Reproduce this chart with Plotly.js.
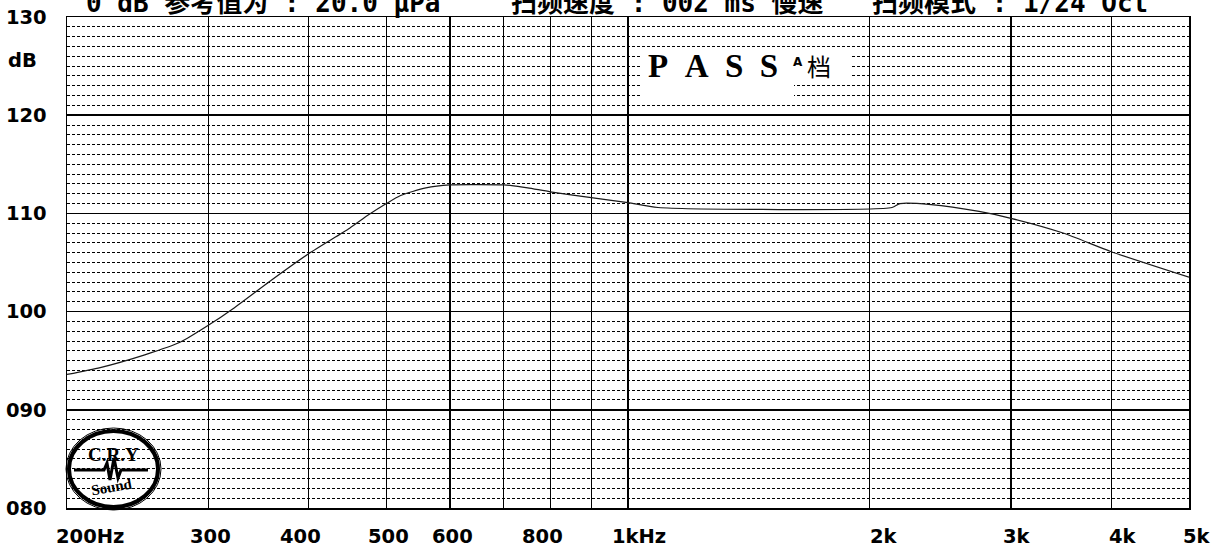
<!DOCTYPE html>
<html>
<head>
<meta charset="utf-8">
<script src="https://cdn.plot.ly/plotly-3.0.1.min.js"></script>
<style>html,body{margin:0;padding:0;background:#fff}#chart{width:1223px;height:551px}</style>
</head>
<body>
<div id="chart"></div>
<script>
// ---- data ----
const freqHz = [200, 220, 250, 277, 300, 322, 358, 400, 450, 474, 500, 520, 560, 600, 700, 713, 750, 800, 900, 1000, 1090, 2133, 2182, 2386, 2738, 3000, 3484, 4000, 5000];
const levelDb = [93.6, 94.3, 95.6, 96.9, 98.6, 100.3, 103.1, 105.9, 108.5, 109.8, 111.0, 111.8, 112.6, 112.9, 112.9, 112.85, 112.6, 112.2, 111.6, 111.1, 110.6, 110.6, 111.0, 110.9, 110.2, 109.5, 108.0, 106.1, 103.5];
const gridFreqs = [300, 400, 500, 600, 700, 800, 900, 1000, 2000, 3000, 4000];
const xTickVals = [200, 300, 400, 500, 600, 800, 1000, 2000, 3000, 4000, 5000];
const xTickText = ['200Hz', '300', '400', '500', '600', '800', '1kHz', '2k', '3k', '4k', '5k'];
const yTickVals = [80, 90, 100, 110, 120, 130];
const yTickText = ['080', '090', '100', '110', '120', '130'];
const headerTexts = ['0 dB 参考值为 : 20.0 μPa', '扫频速度 : 002 ms 慢速', '扫频模式 : 1/24 Oct'];
const passText = 'PASS';
const gradeText = ['A', '档'];
const logoTexts = ['C.R.Y', 'Sound'];

// ---- layout helpers ----
const L = 67, T = 17, W = 1122, H = 491;
const px = x => (x - L) / W;
const py = y => (T + H - y) / H;
const monoB = {family: 'DejaVu Sans, sans-serif', size: 19.5, color: '#000', weight: 'bold'};
const labelShift = [23, 2, -8, 2, 3, -8, 11, 14, 6, 12, 8];
const headerX = [84, 509, 870];

const annotations = [];
xTickVals.forEach((v, i) => annotations.push({
  xref: 'x', yref: 'paper', x: Math.log10(v), y: py(536.5), xanchor: 'center', yanchor: 'middle',
  xshift: labelShift[i], text: xTickText[i], showarrow: false, font: monoB
}));
annotations.push({xref: 'paper', yref: 'paper', x: px(6), y: py(61), xanchor: 'left', yanchor: 'middle',
  text: 'dB', showarrow: false, font: monoB});
headerTexts.forEach((t, i) => annotations.push({
  xref: 'paper', yref: 'paper', x: px(headerX[i]), y: py(3), xanchor: 'left', yanchor: 'middle',
  text: t, showarrow: false, font: {family: 'DejaVu Sans Mono, Noto Sans CJK SC, monospace', size: 26, color: '#000', weight: 'bold'}
}));
annotations.push({xref: 'paper', yref: 'paper', x: px(646), y: py(66), xanchor: 'left', yanchor: 'middle',
  text: passText.split('').join('\u2002'), showarrow: false,
  font: {family: 'Liberation Serif, serif', size: 33, color: '#000', weight: 'bold'}});
annotations.push({xref: 'paper', yref: 'paper', x: px(791), y: py(62), xanchor: 'left', yanchor: 'middle',
  text: gradeText[0], showarrow: false, font: {family: 'DejaVu Sans, sans-serif', size: 12, color: '#000', weight: 'bold'}});
annotations.push({xref: 'paper', yref: 'paper', x: px(805), y: py(65), xanchor: 'left', yanchor: 'middle',
  text: gradeText[1], showarrow: false, font: {family: 'Noto Sans CJK SC, sans-serif', size: 24, color: '#000'}});
annotations.push({xref: 'paper', yref: 'paper', x: px(113), y: py(454), xanchor: 'center', yanchor: 'middle',
  text: logoTexts[0], showarrow: false, font: {family: 'Liberation Serif, serif', size: 19, color: '#000', weight: 'bold'}});
annotations.push({xref: 'paper', yref: 'paper', x: px(112), y: py(487), xanchor: 'center', yanchor: 'middle',
  text: logoTexts[1], showarrow: false, textangle: -10, font: {family: 'Liberation Serif, serif', size: 15, color: '#000', weight: 'bold'}});

const wave = [[74,470],[104,470],[107,463],[110,480],[114,458],[118,478],[121,470],[148,470]];
const shapes = [
  {type: 'rect', xref: 'paper', yref: 'paper', x0: px(640), x1: px(850), y0: py(80), y1: py(51), fillcolor: '#fff', line: {width: 0}, layer: 'above'},
  {type: 'rect', xref: 'paper', yref: 'paper', x0: px(640), x1: px(794), y0: py(99), y1: py(80), fillcolor: '#fff', line: {width: 0}, layer: 'above'},
  {type: 'circle', xref: 'paper', yref: 'paper', x0: px(69), x1: px(158), y0: py(507), y1: py(431), line: {color: '#000', width: 4}, layer: 'above'},
  {type: 'circle', xref: 'paper', yref: 'paper', x0: px(66), x1: px(161), y0: py(510), y1: py(428), line: {color: '#000', width: 1}, layer: 'above'},
  {type: 'path', xref: 'paper', yref: 'paper', path: 'M ' + wave.map(p => px(p[0]) + ',' + py(p[1])).join(' L '), line: {color: '#000', width: 3}, layer: 'above'}
];

const trace = {x: freqHz, y: levelDb, type: 'scatter', mode: 'lines', line: {color: '#1a1a1a', width: 1.2, shape: 'spline', smoothing: 0.6}, hoverinfo: 'skip'};

const layout = {
  width: 1223, height: 551,
  margin: {l: L, r: 1223 - L - W, t: T, b: 551 - T - H, pad: 0},
  paper_bgcolor: '#fff', plot_bgcolor: '#fff',
  showlegend: false,
  xaxis: {type: 'log', range: [Math.log10(200), Math.log10(5000)], tickvals: gridFreqs, showticklabels: false,
    showgrid: true, gridcolor: '#000', gridwidth: 1.3, ticks: '', zeroline: false,
    showline: true, linecolor: '#000', linewidth: 1.5, mirror: true, fixedrange: true},
  yaxis: {range: [80, 130], tickvals: yTickVals, ticktext: yTickText, tickfont: monoB, ticks: '',
    ticklabelstandoff: 15, showgrid: true, gridcolor: '#000', gridwidth: 1.5, zeroline: false,
    minor: {tickvals: Array.from({length: 51}, (_, i) => 80 + i), showgrid: true, gridcolor: '#000', griddash: '3px,2px', gridwidth: 1, ticks: ''},
    showline: true, linecolor: '#000', linewidth: 1.5, mirror: true, fixedrange: true},
  annotations: annotations,
  shapes: shapes
};

Plotly.newPlot('chart', [trace], layout, {displayModeBar: false, staticPlot: true});
</script>
</body>
</html>
